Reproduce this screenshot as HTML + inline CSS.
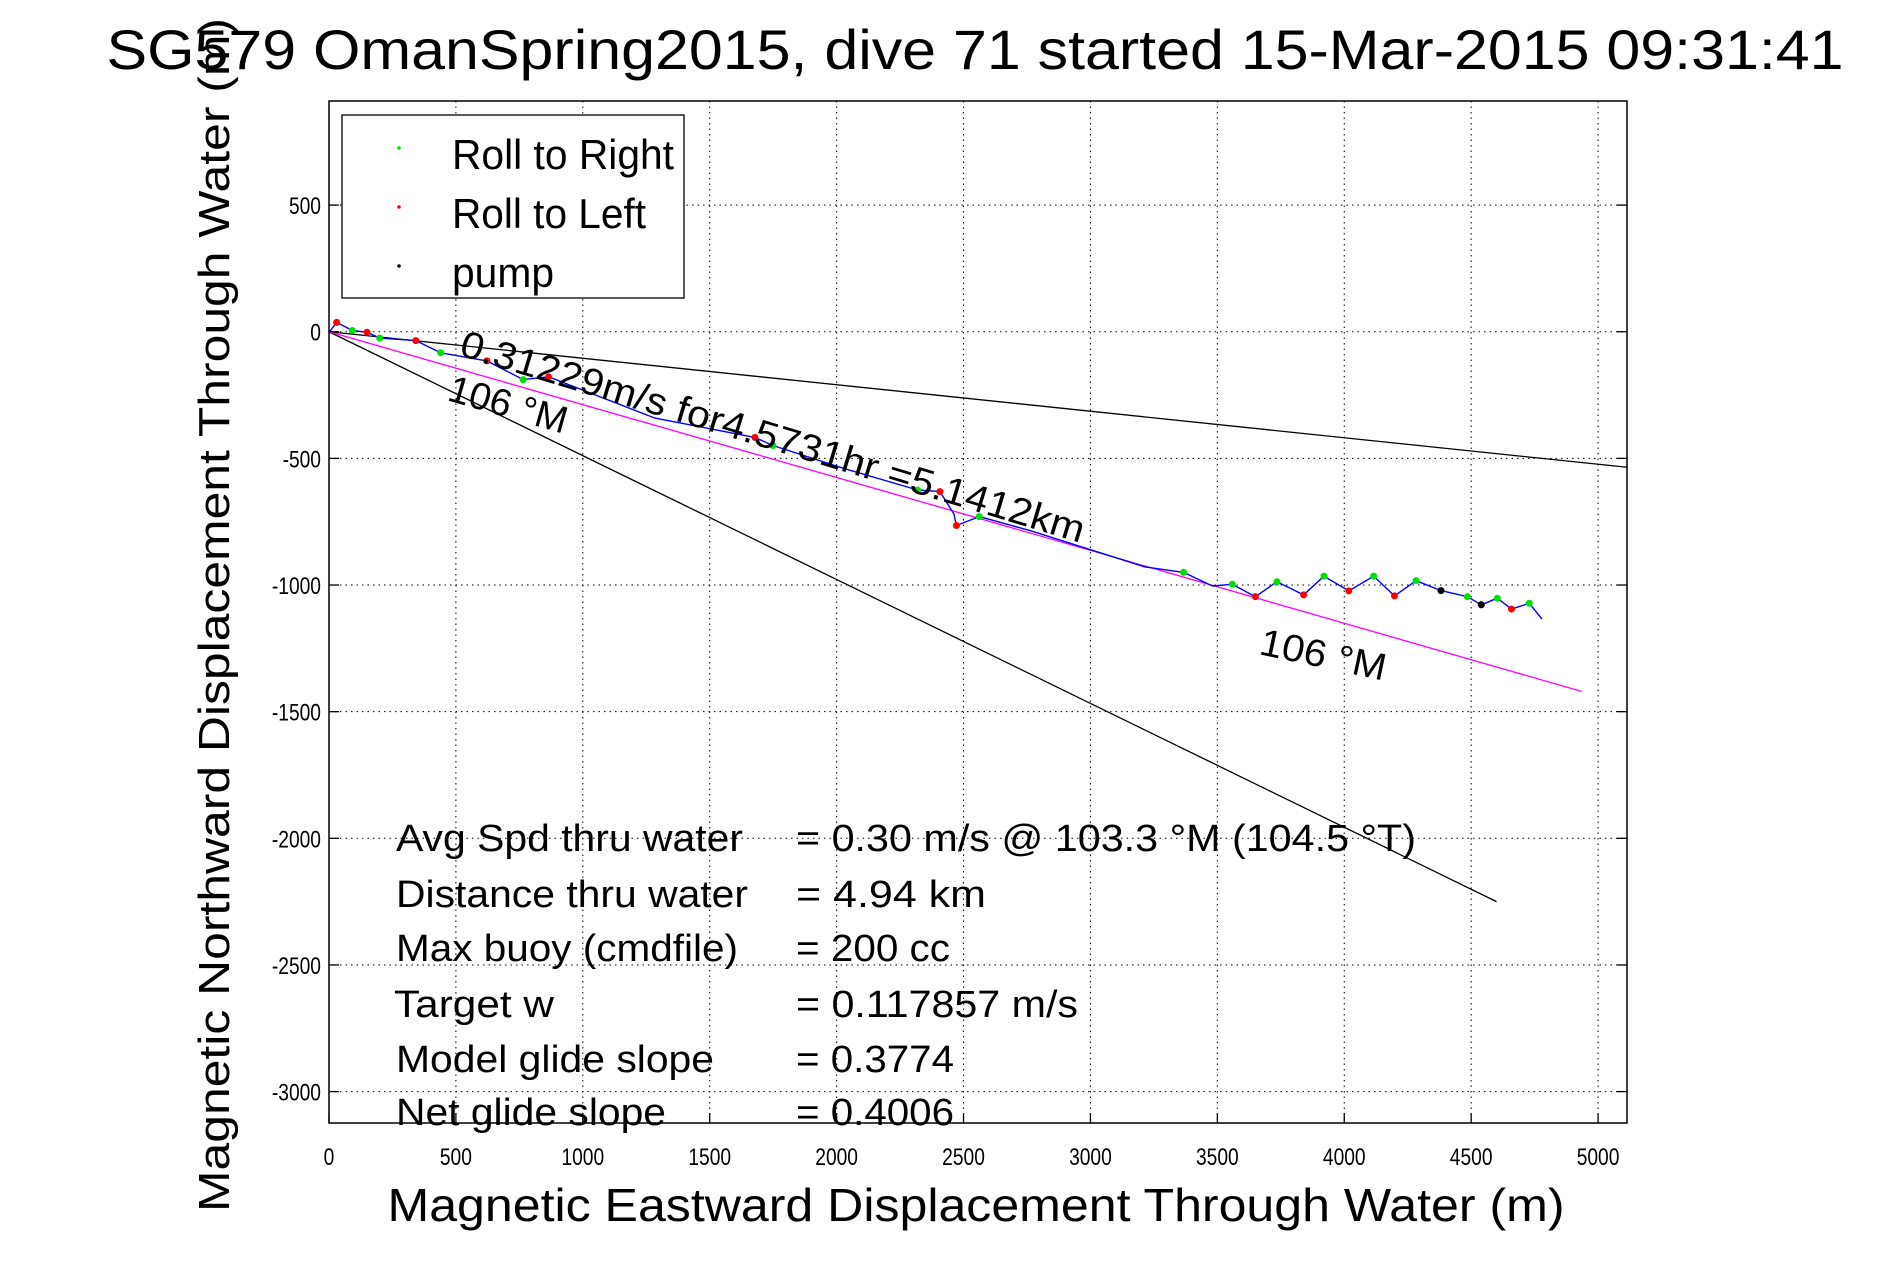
<!DOCTYPE html>
<html><head><meta charset="utf-8"><style>
html,body{margin:0;padding:0;background:#fff;}
svg{display:block;font-family:"Liberation Sans",sans-serif;}
</style></head><body>
<svg id="chart" width="1891" height="1262" viewBox="0 0 1891 1262" xmlns="http://www.w3.org/2000/svg">
<rect width="1891" height="1262" fill="#fff"/>
<g id="grid"></g>
<g id="lines"></g>
<g id="track"></g>
<g id="ticks"></g>
<text x="975" y="69" font-size="56" text-anchor="middle" textLength="1737" lengthAdjust="spacingAndGlyphs">SG579 OmanSpring2015, dive 71 started 15-Mar-2015 09:31:41</text>
<text transform="translate(229,615) rotate(-90)" font-size="44" text-anchor="middle" textLength="1194" lengthAdjust="spacingAndGlyphs">Magnetic Northward Displacement Through Water (m)</text>
<text x="976" y="1221" font-size="46" text-anchor="middle" textLength="1177" lengthAdjust="spacingAndGlyphs">Magnetic Eastward Displacement Through Water (m)</text>
<g>
<rect x="342" y="115" width="342" height="183" fill="#fff" stroke="#000" stroke-width="1.3"/>
<circle cx="399" cy="148" r="1.8" fill="#00e000"/>
<text x="452" y="169" font-size="42" textLength="222" lengthAdjust="spacingAndGlyphs">Roll to Right</text>
<circle cx="399" cy="207" r="1.8" fill="#ff0000"/>
<text x="452" y="228" font-size="42" textLength="194" lengthAdjust="spacingAndGlyphs">Roll to Left</text>
<circle cx="399" cy="266" r="1.8" fill="#000"/>
<text x="452" y="287" font-size="42" textLength="102" lengthAdjust="spacingAndGlyphs">pump</text>
</g>
<text transform="translate(458,355) rotate(16.8)" font-size="38" textLength="650" lengthAdjust="spacingAndGlyphs">0.31229m/s for4.5731hr =5.1412km</text>
<text transform="translate(446,400) rotate(16)" font-size="38" textLength="122" lengthAdjust="spacingAndGlyphs">106 °M</text>
<text transform="translate(1258,654) rotate(12)" font-size="38" textLength="128" lengthAdjust="spacingAndGlyphs">106 °M</text>
<g font-size="38">
<text x="396" y="851" textLength="347" lengthAdjust="spacingAndGlyphs">Avg Spd thru water</text><text x="796" y="851" textLength="620" lengthAdjust="spacingAndGlyphs">=  0.30 m/s @ 103.3 °M (104.5 °T)</text>
<text x="396" y="907" textLength="352" lengthAdjust="spacingAndGlyphs">Distance thru water</text><text x="796" y="907" textLength="190" lengthAdjust="spacingAndGlyphs">=  4.94 km</text>
<text x="396" y="961" textLength="342" lengthAdjust="spacingAndGlyphs">Max buoy (cmdfile)</text><text x="796" y="961" textLength="154" lengthAdjust="spacingAndGlyphs">= 200 cc</text>
<text x="394" y="1017" textLength="160" lengthAdjust="spacingAndGlyphs">Target w</text><text x="796" y="1017" textLength="282" lengthAdjust="spacingAndGlyphs">= 0.117857 m/s</text>
<text x="396" y="1072" textLength="318" lengthAdjust="spacingAndGlyphs">Model glide slope</text><text x="796" y="1072" textLength="158" lengthAdjust="spacingAndGlyphs">= 0.3774</text>
<text x="396" y="1125" textLength="270" lengthAdjust="spacingAndGlyphs">Net glide slope</text><text x="796" y="1125" textLength="158" lengthAdjust="spacingAndGlyphs">= 0.4006</text>
</g>
<rect x="329" y="101" width="1298" height="1022" fill="none" stroke="#000" stroke-width="1.5"/>
</svg>
<script>
const xTicks=[0,500,1000,1500,2000,2500,3000,3500,4000,4500,5000];
const yTicks=[500,0,-500,-1000,-1500,-2000,-2500,-3000];
const trackX=[6,30,92,150,200,342,440,622,765,865,1284,1678,1749,2033,2319,2407,2462,2472,2562,2762,3017,3213,3367,3481,3559,3650,3735,3840,3920,4018,4116,4198,4283,4381,4485,4540,4603,4659,4729,4779];
const trackY=[5,37,5,-2,-25,-35,-83,-115,-189,-178,-341,-417,-449,-541,-625,-631,-719,-765,-730,-785,-866,-928,-950,-1004,-997,-1046,-987,-1039,-965,-1023,-965,-1043,-983,-1022,-1046,-1078,-1052,-1095,-1072,-1134];
const rightX=[92,200,440,765,1749,2319,2562,3367,3559,3735,3920,4116,4283,4485,4603,4729];
const rightY=[5,-25,-83,-189,-449,-625,-730,-950,-997,-987,-965,-965,-983,-1046,-1052,-1072];
const leftX=[30,150,342,622,865,1678,2407,2472,3650,3840,4018,4198,4540,4659];
const leftY=[37,-2,-35,-115,-178,-417,-631,-765,-1046,-1039,-1023,-1043,-1078,-1095];
const pumpX=[4381,4540];
const pumpY=[-1022,-1078];
const lineEndX=[5114,4600,4935];
const lineEndY=[-535,-2250,-1420];
const lineColors=['#000','#000','#ff00ff'];

const X0=329,X1=1627,Y0=101,Y1=1123,xMin=0,xMax=5114,yMax=911,yMin=-3124;
const sx=v=>X0+(v-xMin)/(xMax-xMin)*(X1-X0);
const sy=v=>Y0+(yMax-v)/(yMax-yMin)*(Y1-Y0);
const NS='http://www.w3.org/2000/svg';
function mk(tag,attrs,parent){const e=document.createElementNS(NS,tag);for(const k in attrs)e.setAttribute(k,attrs[k]);parent.appendChild(e);return e;}
const grid=document.getElementById('grid'),ticks=document.getElementById('ticks'),lines=document.getElementById('lines'),track=document.getElementById('track');
xTicks.forEach(v=>{
 const x=sx(v);
 if(v>0){const g=mk('line',{x1:x,x2:x,y1:Y0,y2:Y1,stroke:'#000','stroke-width':1,'stroke-dasharray':'1.5,4'},grid);
 
 }
 const t=mk('line',{x1:x,x2:x,y1:Y1,y2:Y1-10,stroke:'#000','stroke-width':1.3},ticks);
 
 
 const l=mk('text',{x:x,y:1165,'font-size':24,'text-anchor':'middle',transform:'translate('+x+',0) scale(0.8,1) translate('+(-x)+',0)'},ticks);
 l.textContent=v;
 
 
});
yTicks.forEach(v=>{
 const y=sy(v);
 const g=mk('line',{x1:X0,x2:X1,y1:y,y2:y,stroke:'#000','stroke-width':1,'stroke-dasharray':'1.5,4'},grid);
 
 
 const t=mk('line',{x1:X0,x2:X0+10,y1:y,y2:y,stroke:'#000','stroke-width':1.3},ticks);
 
 
 const t2=mk('line',{x1:X1,x2:X1-10,y1:y,y2:y,stroke:'#000','stroke-width':1.3},ticks);
 
 
 const l=mk('text',{x:321,y:y+9,'font-size':24,'text-anchor':'end',transform:'translate(321,0) scale(0.8,1) translate(-321,0)'},ticks);
 l.textContent=v;
 
 
});
lineEndX.forEach((ex,i)=>{
 const e=mk('line',{x1:sx(0),y1:sy(0),x2:sx(ex),y2:sy(lineEndY[i]),stroke:lineColors[i],'stroke-width':1.3},lines);
 
 
});
let d='M'+sx(0)+','+sy(0);
for(let i=0;i<trackX.length;i++)d+=' L'+sx(trackX[i]).toFixed(1)+','+sy(trackY[i]).toFixed(1);
const p=mk('path',{d:d,fill:'none',stroke:'#0000ff','stroke-width':1.4,'stroke-linejoin':'round'},track);


function pts(xs,ys,col,name){xs.forEach((v,i)=>{const c=mk('circle',{cx:sx(v),cy:sy(ys[i]),r:3.5,fill:col},track);
 
 });}
pts(rightX,rightY,'#00e000','roll-right-point');
pts(leftX,leftY,'#ff0000','roll-left-point');
pts(pumpX,pumpY,'#000','pump-point');
</script>
</body></html>
